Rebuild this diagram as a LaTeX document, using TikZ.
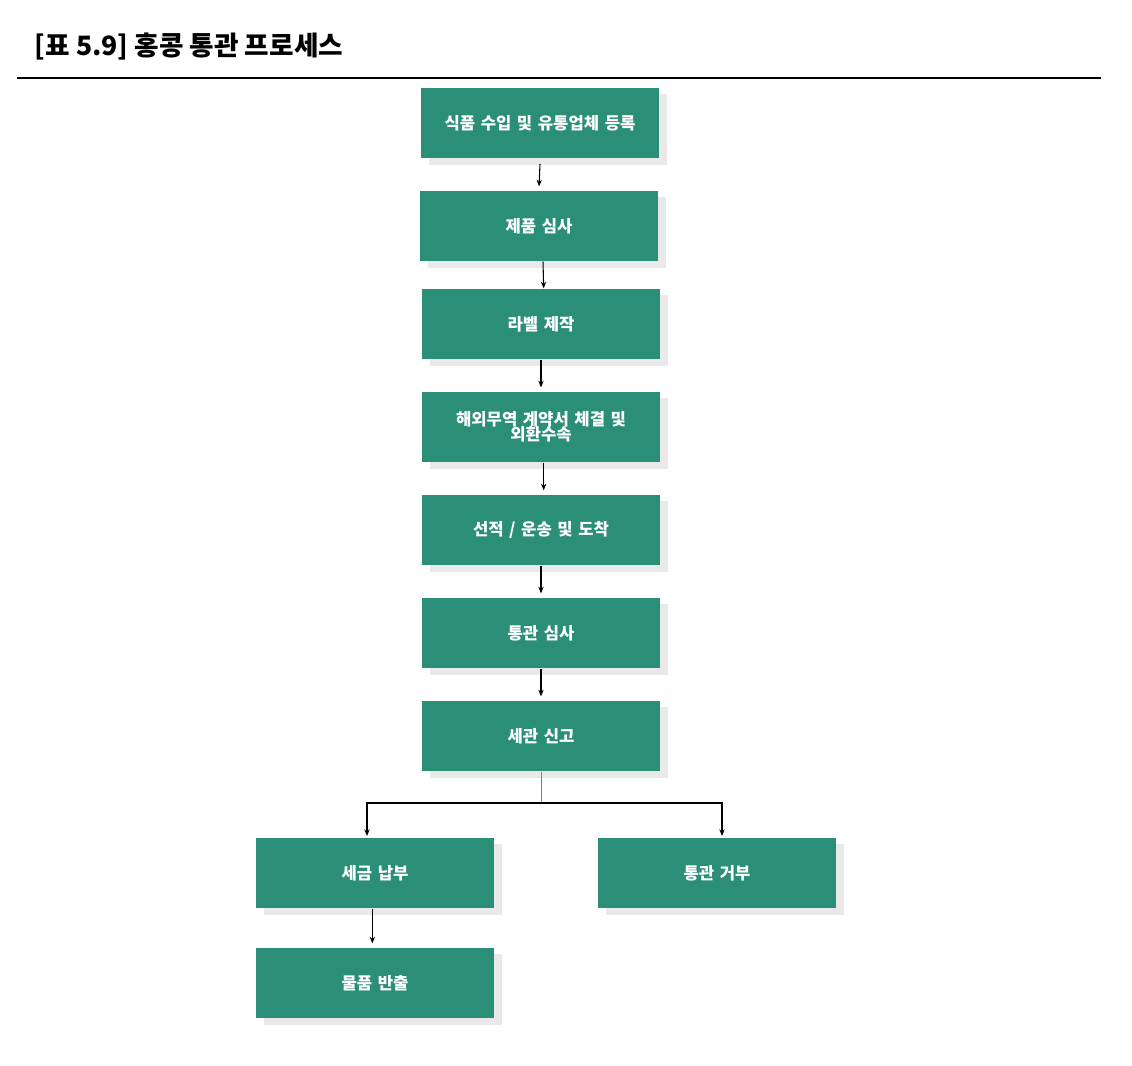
\documentclass[tikz,border=0pt]{standalone}
\usepackage{fontspec}
\setmainfont{Noto Sans CJK KR}
\usetikzlibrary{arrows.meta,shadows}
\definecolor{boxg}{HTML}{2B8F78}
\begin{document}
\begin{tikzpicture}[x=0.75pt,y=-0.75pt,
  box/.style={fill=boxg,minimum width=178.5pt,minimum height=53pt,inner sep=2pt,
    text=white,font=\fontsize{12.5pt}{14pt}\selectfont\bfseries,align=center,text width=170pt,
    drop shadow={shadow xshift=6pt,shadow yshift=-5pt,fill=black!25,opacity=0.35}},
  arr/.style={-{Stealth[length=5pt,width=4pt]},line width=0.8pt}]
\useasboundingbox (0,0) rectangle (1132,1066);
\node[anchor=west,font=\fontsize{20pt}{24pt}\selectfont\bfseries] (t) at (30,47) {[표 5.9] 홍콩 통관 프로세스};
\draw[line width=0.8pt] (17,78) -- (1101,78);
\node[box] (b1) at (540,123) {식품 수입 및 유통업체 등록};
\node[box] (b2) at (539,226) {제품 심사};
\node[box] (b3) at (541,324) {라벨 제작};
\node[box] (b4) at (541,427) {해외무역 계약서 체결 및\\[-3pt]외환수속};
\node[box] (b5) at (541,530) {선적 / 운송 및 도착};
\node[box] (b6) at (541,633) {통관 심사};
\node[box] (b7) at (541,736) {세관 신고};
\node[box] (b8) at (375,873) {세금 납부};
\node[box] (b9) at (717,873) {통관 거부};
\node[box] (b10) at (375,983) {물품 반출};
\draw[arr] ([yshift=-4pt]b1.south) -- ([yshift=3pt]b2.north);
\draw[arr] ([xshift=3pt]b2.south) -- ([xshift=2pt]b3.north);
\draw[arr] (b3.south) -- ([yshift=3pt]b4.north);
\draw[arr] ([xshift=2pt]b4.south) -- ([xshift=2pt,yshift=3pt]b5.north);
\draw[arr] (b5.south) -- ([yshift=3pt]b6.north);
\draw[arr] (b6.south) -- ([yshift=3pt]b7.north);
\coordinate (m) at (541,803);
\draw[line width=0.6pt,gray] (b7.south) -- (m);
\draw[arr] (m) -- (367,803) -- (367,836);
\draw[arr] (m) -- (722,803) -- (722,836);
\draw[arr] ([xshift=-2pt]b8.south) -- ([xshift=-2pt,yshift=3pt]b10.north);
\end{tikzpicture}
\end{document}
